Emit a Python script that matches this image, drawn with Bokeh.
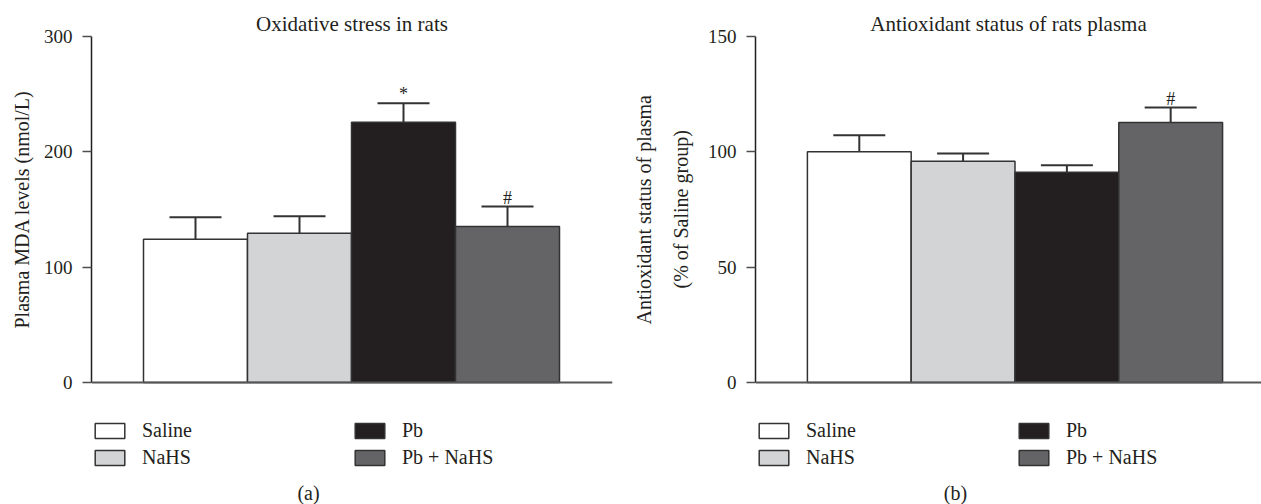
from bokeh.plotting import figure
from bokeh.models import (Range1d, FixedTicker, Whisker, TeeHead, ColumnDataSource,
                          Legend, LegendItem, Label, Title, Span)
from bokeh.layouts import row
from bokeh.core.properties import value
from bokeh.embed import file_html
from bokeh.resources import INLINE

# ---- data -------------------------------------------------------------
groups = ["Saline", "NaHS", "Pb", "Pb + NaHS"]
colors = ["#ffffff", "#d3d4d6", "#231f20", "#646466"]

mda_mean = [124.3, 129.5, 225.7, 135.3]
mda_err = [19.0, 14.7, 16.5, 17.3]
mda_sig = ["", "", "*", "#"]
mda_ticks = [0, 100, 200, 300]

aox_mean = [100.0, 95.9, 91.2, 112.7]
aox_err = [7.2, 3.4, 3.0, 6.5]
aox_sig = ["", "", "", "#"]
aox_ticks = [0, 50, 100, 150]

FONT = "Liberation Serif"
INK = "#231f20"
EDGE = "#333333"
H = 504
TOP = 36          # frame top (px)
ZERO = 382        # pixel row of y = 0


def make_panel(title, ylabels, yend, yticks, mean, err, sig, width, bl, br,
               caption, caption_x, legend_x):
    px_per_bar = 104.0
    frame_w = width - bl - br
    ybot = -yend * (H - ZERO) / (ZERO - TOP)
    p = figure(width=width, height=H, output_backend="svg", toolbar_location=None,
               x_range=Range1d(0, frame_w / px_per_bar), y_range=Range1d(ybot, yend),
               min_border_left=bl, min_border_right=br, min_border_top=TOP,
               min_border_bottom=0)
    p.outline_line_color = None
    p.grid.visible = False
    p.background_fill_color = "white"
    p.border_fill_color = "white"

    p.title.text = title
    p.title.align = "center"
    p.title.text_font = FONT
    p.title.text_font_size = "21px"
    p.title.text_font_style = "normal"
    p.title.text_color = INK
    p.title.standoff = 2

    xs = list(range(1, len(groups) + 1))
    upper = [m + e for m, e in zip(mean, err)]
    src = ColumnDataSource(dict(x=xs, mean=mean, upper=upper, sig=sig,
                                color=colors, group=groups))

    bars = p.vbar(x="x", top="mean", bottom=0, width=1, source=src,
                  fill_color="color", line_color=EDGE, line_width=1.5)

    wh = Whisker(base="x", lower="mean", upper="upper", source=src,
                 line_color=EDGE, line_width=2,
                 upper_head=TeeHead(size=52, line_color=EDGE, line_width=2),
                 lower_head=None)
    p.add_layout(wh)

    p.text(x="x", y="upper", text="sig", source=src, text_align="center",
           text_baseline="alphabetic", y_offset=-9, text_font=value(FONT),
           text_font_size="18px", text_color=INK)

    # x axis baseline at y = 0
    p.xaxis.visible = False
    p.add_layout(Span(location=0, dimension="width", line_color="#555555", line_width=2))

    # y axis
    p.yaxis.bounds = (0, yend)
    p.yaxis.ticker = FixedTicker(ticks=yticks)
    p.yaxis.minor_tick_line_color = None
    p.yaxis.major_tick_in = 0
    p.yaxis.major_tick_out = 9
    p.yaxis.major_tick_line_color = "#4d4d4d"
    p.yaxis.major_tick_line_width = 1.5
    p.yaxis.axis_line_color = INK
    p.yaxis.axis_line_width = 1.5
    p.yaxis.major_label_standoff = 10
    p.yaxis.major_label_text_font = FONT
    p.yaxis.major_label_text_font_size = "19px"
    p.yaxis.major_label_text_color = INK

    # y-axis label lines (inner first), each: text, offset from frame bottom, standoff
    for txt, off, so in ylabels:
        p.add_layout(Title(text=txt, align="left", offset=off, standoff=so,
                           text_font=FONT, text_font_size="20px",
                           text_font_style="normal", text_color=INK), "left")

    items = [LegendItem(label=g, renderers=[bars], index=i) for i, g in enumerate(groups)]
    leg = Legend(items=items, location=(legend_x, 35), ncols=2, orientation="vertical",
                 glyph_width=37, glyph_height=19, label_standoff=14, label_width=205,
                 label_height=19, spacing=4, padding=0, margin=0,
                 border_line_color=None, background_fill_alpha=0,
                 label_text_font=FONT, label_text_font_size="20px",
                 label_text_color=INK)
    p.add_layout(leg)

    cap = Label(x=caption_x, y=1, x_units="screen", y_units="screen", text=caption,
                text_align="center", text_baseline="bottom", text_font=FONT,
                text_font_size="20px", text_color=INK)
    p.add_layout(cap)
    return p


left = make_panel("Oxidative stress in rats",
                  [("Plasma MDA levels (nmol/L)", 176, 16)], 300,
                  mda_ticks, mda_mean, mda_err, mda_sig, 630, 91, 18, "(a)", 217, 0)
right = make_panel("Antioxidant status of rats plasma",
                   [("(% of Saline group)", 216, 26),
                    ("Antioxidant status of plasma", 180, 0)], 150,
                   aox_ticks, aox_mean, aox_err, aox_sig, 631, 124, 0, "(b)", 200, 0)

layout = row(left, right, spacing=0)
open("out.html", "w").write(file_html(layout, INLINE))
